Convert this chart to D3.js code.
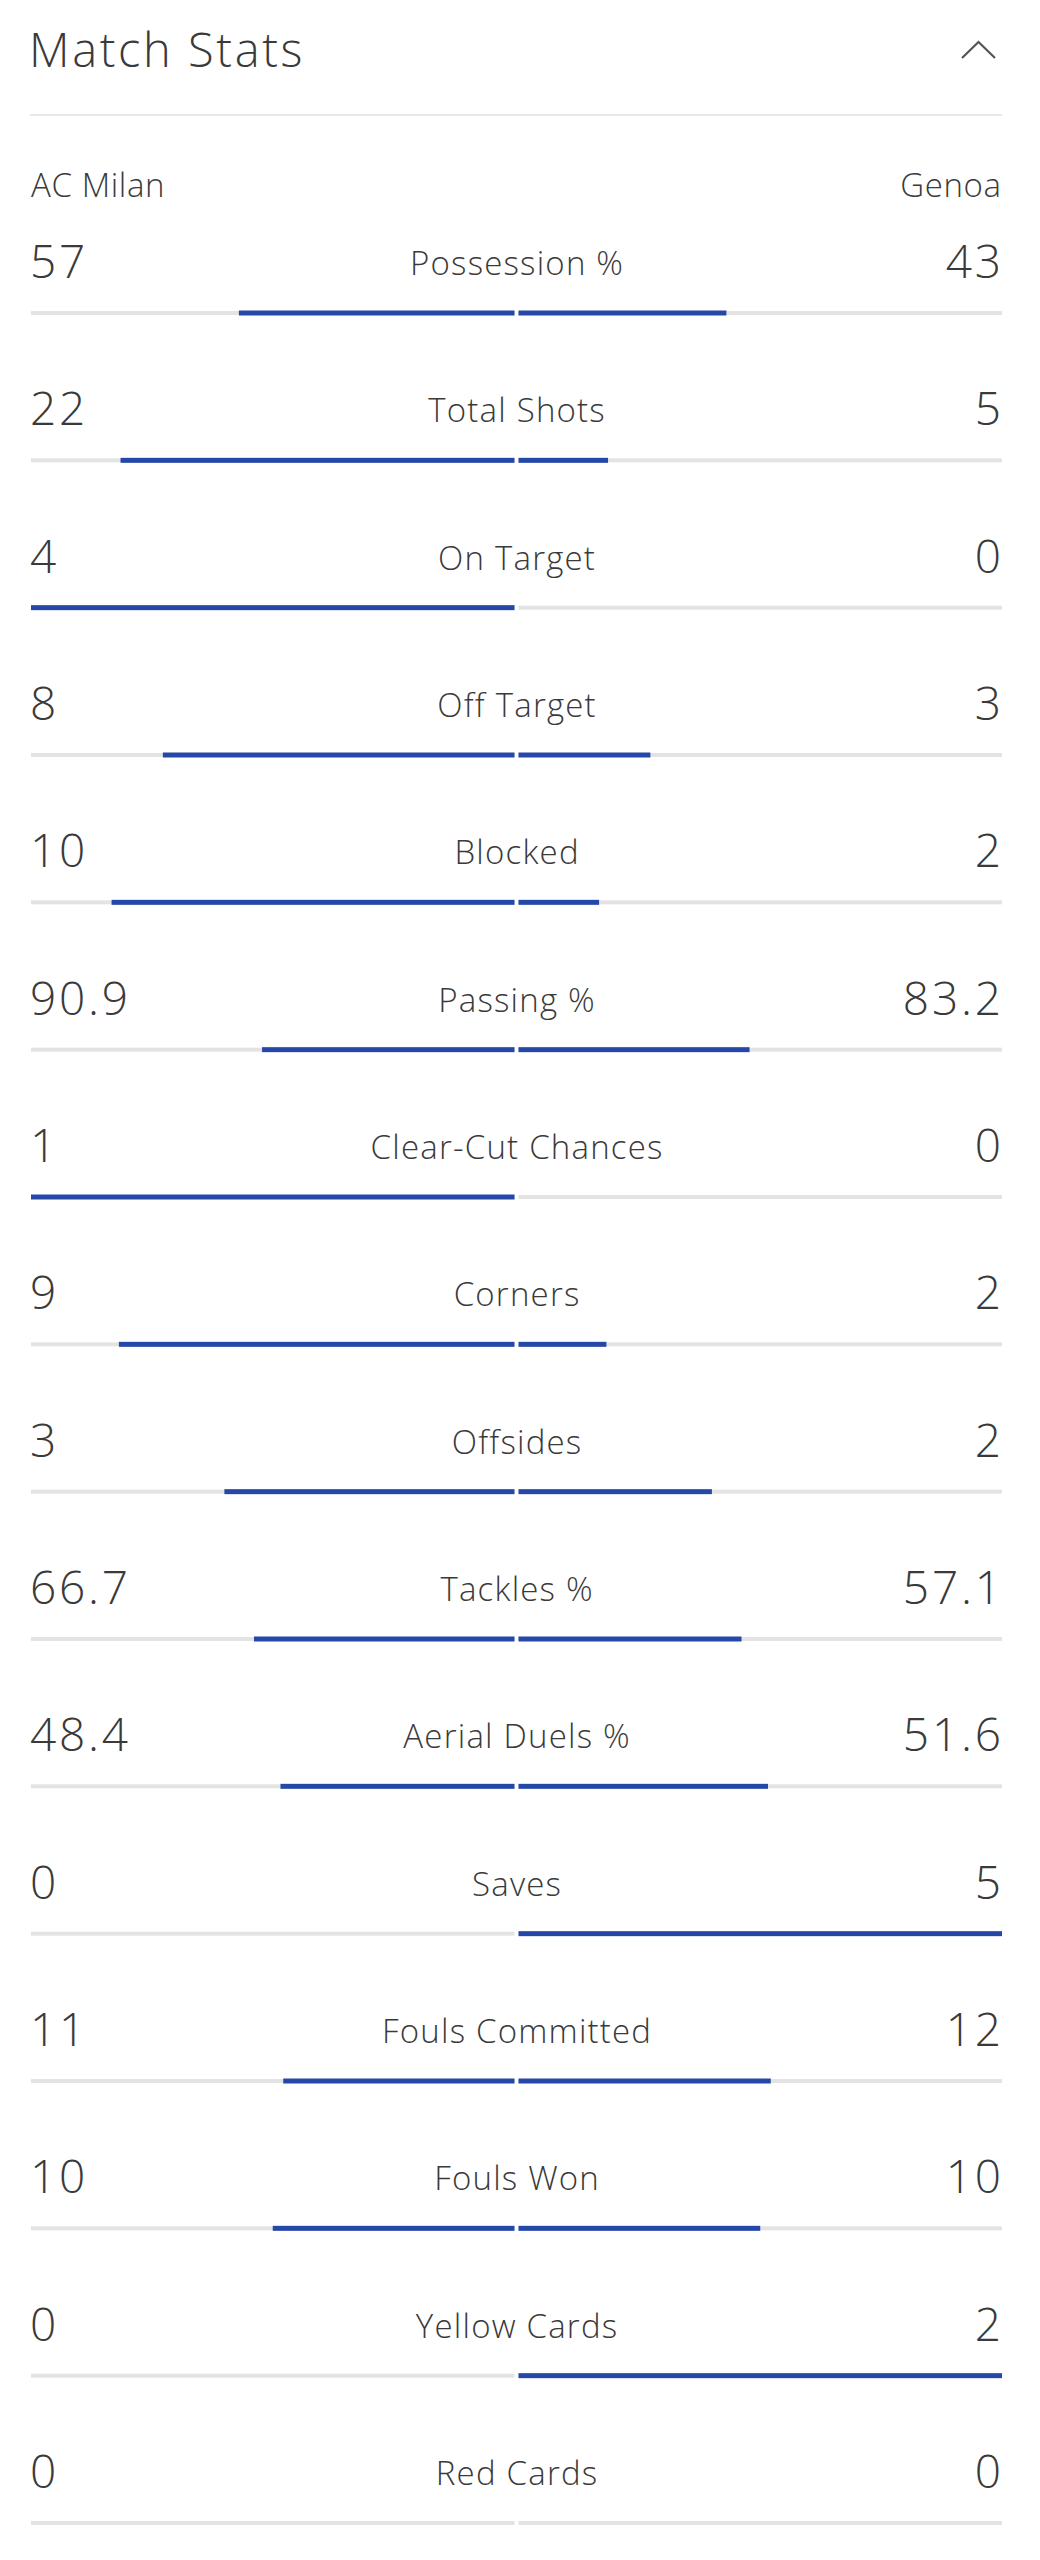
<!DOCTYPE html>
<html>
<head>
<meta charset="utf-8">
<script src="https://cdn.jsdelivr.net/npm/d3@7"></script>
<style>
  html, body { margin: 0; padding: 0; background: #ffffff; }
  svg { display: block; }
  text { font-family: "Open Sans", "Noto Sans", sans-serif; fill: #3a3a3a; font-weight: 300; }
</style>
</head>
<body>
<svg id="chart" width="1040" height="2560"></svg>
<script>
const title = "Match Stats";
const homeTeam = "AC Milan";
const awayTeam = "Genoa";
const categories = ["Possession %", "Total Shots", "On Target", "Off Target", "Blocked", "Passing %", "Clear-Cut Chances", "Corners", "Offsides", "Tackles %", "Aerial Duels %", "Saves", "Fouls Committed", "Fouls Won", "Yellow Cards", "Red Cards"];
const homeValues = [57, 22, 4, 8, 10, 90.9, 1, 9, 3, 66.7, 48.4, 0, 11, 10, 0, 0];
const awayValues = [43, 5, 0, 3, 2, 83.2, 0, 2, 2, 57.1, 51.6, 5, 12, 10, 2, 0];
const homeLabels = ["57", "22", "4", "8", "10", "90.9", "1", "9", "3", "66.7", "48.4", "0", "11", "10", "0", "0"];
const awayLabels = ["43", "5", "0", "3", "2", "83.2", "0", "2", "2", "57.1", "51.6", "5", "12", "10", "2", "0"];

const svg = d3.select("#chart");
const W = 1040, H = 2560;
svg.append("rect").attr("width", W).attr("height", H).attr("fill", "#ffffff");

const left = 31, right = 1002, center = 516.5, gap = 2;
const halfW = center - gap - left;
const blue = "#2447a8", track = "#e3e3e3";

// header
svg.append("text").attr("x", 29).attr("y", 67).attr("font-size", 47)
  .attr("letter-spacing", 2.6).text(title);
svg.append("path")
  .attr("d", "M962,58 L978.5,42 L995,58")
  .attr("fill", "none").attr("stroke", "#555").attr("stroke-width", 2.2);
svg.append("rect").attr("x", 30).attr("y", 114).attr("width", 972).attr("height", 2).attr("fill", "#e8e8e8");

svg.append("text").attr("x", 31).attr("y", 197).attr("font-size", 33)
  .attr("letter-spacing", 0.6).text(homeTeam);
svg.append("text").attr("x", 1001 + 0.6).attr("y", 197).attr("font-size", 33)
  .attr("letter-spacing", 0.6).attr("text-anchor", "end").text(awayTeam);

const y = d3.scalePoint().domain(categories).range([313, 2523]);

const rows = svg.selectAll("g.row").data(categories.map((c, i) => ({
  cat: c, h: homeValues[i], a: awayValues[i], hl: homeLabels[i], al: awayLabels[i]
}))).join("g").attr("class", "row").attr("transform", d => `translate(0,${y(d.cat)})`);

const numLS = 2.8, labLS = 1.2;
rows.each(function(d) {
  const g = d3.select(this);
  const total = d.h + d.a;
  const x = d3.scaleLinear().domain([0, total > 0 ? total : 1]).range([0, halfW]);
  // tracks
  g.append("rect").attr("x", left).attr("y", -2).attr("width", halfW).attr("height", 4).attr("fill", track);
  g.append("rect").attr("x", center + gap).attr("y", -2).attr("width", halfW).attr("height", 4).attr("fill", track);
  // value bars
  if (d.h > 0) g.append("rect").attr("x", center - gap - x(d.h)).attr("y", -2.5).attr("width", x(d.h)).attr("height", 5).attr("fill", blue);
  if (d.a > 0) g.append("rect").attr("x", center + gap).attr("y", -2.5).attr("width", x(d.a)).attr("height", 5).attr("fill", blue);
  // texts
  g.append("text").attr("x", 30).attr("y", -35).attr("font-size", 46).attr("letter-spacing", numLS).text(d.hl);
  g.append("text").attr("x", 1001 + numLS).attr("y", -35).attr("font-size", 46).attr("letter-spacing", numLS)
    .attr("text-anchor", "end").text(d.al);
  g.append("text").attr("x", center + labLS / 2).attr("y", -38).attr("font-size", 33).attr("letter-spacing", labLS)
    .attr("text-anchor", "middle").text(d.cat);
});
</script>
</body>
</html>
